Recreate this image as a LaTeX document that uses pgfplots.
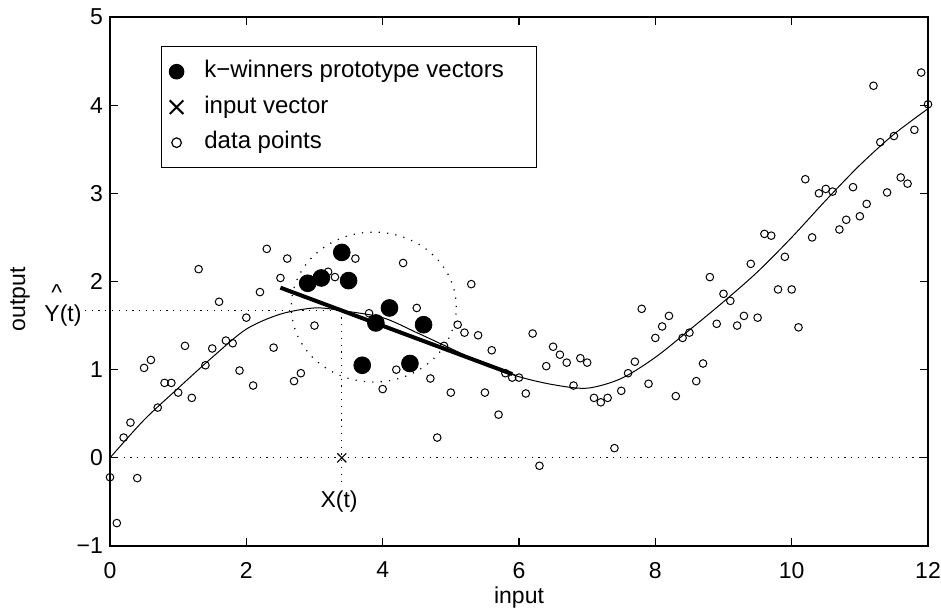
\documentclass[border=0pt]{standalone}
\usepackage{fontspec}
\setmainfont{Liberation Sans}
\usepackage{pgfplots}
\pgfplotsset{compat=1.18}
\usepackage{pgfplotstable}

% noisy samples of the target function
\pgfplotstableread{
x y
0.0 -0.22
0.1 -0.74
0.2 0.23
0.3 0.40
0.4 -0.23
0.5 1.02
0.6 1.11
0.7 0.57
0.8 0.85
0.9 0.85
1.0 0.74
1.1 1.27
1.2 0.68
1.3 2.14
1.4 1.05
1.5 1.24
1.6 1.77
1.7 1.33
1.8 1.30
1.9 0.99
2.0 1.59
2.1 0.82
2.2 1.88
2.3 2.37
2.4 1.25
2.5 2.04
2.6 2.26
2.7 0.87
2.8 0.96
2.9 1.98
3.0 1.50
3.1 2.04
3.2 2.11
3.3 2.05
3.4 2.33
3.5 2.01
3.6 2.26
3.7 1.05
3.8 1.64
3.9 1.53
4.0 0.78
4.1 1.70
4.2 1.00
4.3 2.21
4.4 1.07
4.5 1.70
4.6 1.51
4.7 0.90
4.8 0.23
4.9 1.27
5.0 0.74
5.1 1.51
5.2 1.42
5.3 1.97
5.4 1.39
5.5 0.74
5.6 1.22
5.7 0.49
5.8 0.96
5.9 0.91
6.0 0.91
6.1 0.73
6.2 1.41
6.3 -0.09
6.4 1.04
6.5 1.26
6.6 1.17
6.7 1.08
6.8 0.82
6.9 1.13
7.0 1.08
7.1 0.68
7.2 0.63
7.3 0.68
7.4 0.11
7.5 0.76
7.6 0.96
7.7 1.09
7.8 1.69
7.9 0.84
8.0 1.36
8.1 1.49
8.2 1.61
8.3 0.70
8.4 1.36
8.5 1.42
8.6 0.87
8.7 1.07
8.8 2.05
8.9 1.52
9.0 1.86
9.1 1.78
9.2 1.50
9.3 1.61
9.4 2.20
9.5 1.59
9.6 2.54
9.7 2.52
9.8 1.91
9.9 2.28
10.0 1.91
10.1 1.48
10.2 3.16
10.3 2.50
10.4 3.00
10.5 3.05
10.6 3.02
10.7 2.59
10.8 2.70
10.9 3.07
11.0 2.74
11.1 2.88
11.2 4.22
11.3 3.58
11.4 3.01
11.5 3.65
11.6 3.18
11.7 3.11
11.8 3.72
11.9 4.37
12.0 4.01
}\datapoints

% the k winning prototypes
\pgfplotstableread{
x y
2.9 1.98
3.1 2.04
3.4 2.33
3.5 2.01
3.7 1.05
3.9 1.53
4.1 1.70
4.4 1.07
4.6 1.51
}\winners

% underlying function
\pgfplotstableread{
x y
0.0 0.00
0.5 0.43
1.0 0.79
1.5 1.14
2.0 1.46
2.5 1.63
3.0 1.70
3.4 1.67
4.0 1.59
4.5 1.42
5.0 1.24
5.5 1.06
6.0 0.92
6.5 0.83
7.0 0.79
7.5 0.90
8.0 1.14
8.5 1.45
9.0 1.77
9.5 2.11
10.0 2.50
10.5 2.92
11.0 3.32
11.5 3.67
12.0 3.96
}\target

% local linear model fitted to the winners
\pgfplotstableread{
x y
2.5 1.93
5.9 0.95
}\localfit

\begin{document}
\begin{tikzpicture}
\useasboundingbox (-55pt,-32pt) rectangle (415.5pt,273pt);
\begin{axis}[
  scale only axis,
  width=409pt, height=264.5pt,
  xmin=0, xmax=12, ymin=-1, ymax=5,
  xtick={0,2,4,6,8,10,12},
  ytick={-1,0,1,2,3,4,5},
  yticklabels={−1,0,1,2,3,4,5},
  tick align=inside, tick pos=both,
  major tick length=4pt,
  axis line style={line width=0.6pt},
  every tick/.style={black, line width=0.6pt},
  /pgf/number format/assume math mode=true,
  ticklabel style={font=\fontsize{11.5}{13}\selectfont},
  xticklabel style={yshift=-4.5pt},
  clip=false,
  label style={font=\fontsize{11.5}{13}\selectfont},
  xlabel={input},
  xlabel style={at={(axis cs:6,-1.59)}, anchor=center},
  ylabel={output},
  ylabel style={at={(axis cs:-1.32,1.8)}, anchor=center, rotate=0},
  legend cell align=left,
  legend image code/.code={%
    \path (0pt,0pt) (10pt,0pt);
    \draw[#1] plot coordinates {(5pt,0pt)};},
  legend style={
    at={(axis cs:0.748,4.67)}, anchor=north west,
    draw=black, line width=0.6pt, fill=white,
    font=\fontsize{12}{14}\selectfont,
    inner xsep=2pt, inner ysep=6.5pt,
    row sep=5.75pt,
    nodes={inner xsep=0pt, inner ysep=0pt, text height=9pt, text depth=3pt},
    /tikz/column 1/.style={column sep=8.4pt},
  },
]

% legend entries
\addlegendimage{only marks, mark=*, mark size=3.6pt}
\addlegendentry{\makebox[164pt][l]{k−winners prototype vectors}}
\addlegendimage{only marks, mark=x, mark size=4.8pt, line width=1pt}
\addlegendentry{input vector}
\addlegendimage{only marks, mark=o, mark size=2.4pt, line width=0.6pt}
\addlegendentry{data points}

% reference lines
\addplot[forget plot, black, line width=0.6pt, dash pattern=on 0.6pt off 2.8pt]
  coordinates {(0,0) (12,0)};
\addplot[forget plot, black, line width=0.6pt, dash pattern=on 0.6pt off 2.8pt]
  coordinates {(-0.37,1.67) (3.4,1.67)};
\addplot[forget plot, black, line width=0.6pt, dash pattern=on 0.6pt off 2.8pt]
  coordinates {(3.4,1.67) (3.4,-0.31)};

% neighbourhood of the input vector
\draw[black, line width=0.6pt, dash pattern=on 0.6pt off 3.6pt]
  (axis cs:3.87,1.71) ellipse [x radius=1.21, y radius=0.85];

% samples
\addplot[forget plot, only marks, mark=o, mark size=1.9pt, line width=0.5pt, black]
  table[x=x, y=y] {\datapoints};

% target function
\addplot[forget plot, smooth, black, line width=0.5pt] table[x=x, y=y] {\target};

% local model
\addplot[forget plot, black, line width=2pt] table[x=x, y=y] {\localfit};

% winning prototypes
\addplot[forget plot, only marks, mark=*, mark size=4.2pt, black]
  table[x=x, y=y] {\winners};

% input vector
\addplot[forget plot, only marks, mark=x, mark size=3.2pt, line width=0.6pt, black]
  coordinates {(3.4,0)};

\node[font=\fontsize{11.5}{13}\selectfont] at (axis cs:3.36,-0.50) {X(t)};
\node[font=\fontsize{11.5}{13}\selectfont] at (axis cs:-0.69,1.61) {Y(t)};
\node[font=\fontsize{11.5}{13}\selectfont] at (axis cs:-0.78,1.87) {\textasciicircum};
\end{axis}
\end{tikzpicture}
\end{document}
